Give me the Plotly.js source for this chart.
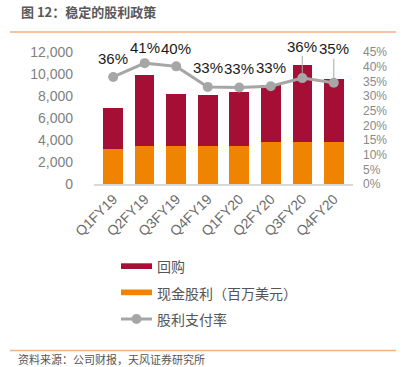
<!DOCTYPE html>
<html>
<head>
<meta charset="utf-8">
<script src="https://cdn.plot.ly/plotly-3.0.1.min.js"></script>
<style>
html,body{margin:0;padding:0;background:#fff;}
#chart{width:408px;height:367px;}
</style>
</head>
<body>
<div id="chart"></div>
<script>
// ---- data ----
const quarters = ["Q1FY19","Q2FY19","Q3FY19","Q4FY19","Q1FY20","Q2FY20","Q3FY20","Q4FY20"];
const buyback  = [3730, 6380, 4690, 4560, 4890, 5190, 7020, 5740];   // 回购 (百万美元)
const dividend = [3170, 3500, 3500, 3500, 3480, 3840, 3840, 3840];   // 现金股利 (百万美元)
const payout   = [36.5, 41.2, 40.1, 33.1, 32.9, 33.3, 36.1, 34.5];   // 股利支付率 %
const payoutLabels = ["36%","41%","40%","33%","33%","33%","36%","35%"];
const leftTicks = [0, 2000, 4000, 6000, 8000, 10000, 12000];
const rightTicks = [0, 5, 10, 15, 20, 25, 30, 35, 40, 45];
const rightTickText = ["0%","5%","10%","15%","20%","25%","30%","35%","40%","45%"];

// ---- layout helpers ----
const W = 408, H = 367, L = 94, R = 55, T = 52, B = 183;
const plotW = W - L - R, plotH = H - T - B;
const px = x => (x - L) / plotW;
const py = y => (H - B - y) / plotH;

const RED = "#A50F36", ORANGE = "#F08300", GRAY = "#A6A6A6";
const latin = "Liberation Sans, Arial, sans-serif";
const cjk = "Noto Sans CJK SC, sans-serif";

const traces = [
  { type: "bar", x: quarters, y: dividend, name: "现金股利（百万美元）",
    marker: { color: ORANGE }, showlegend: false, hoverinfo: "skip" },
  { type: "bar", x: quarters, y: buyback, name: "回购",
    marker: { color: RED }, showlegend: false, hoverinfo: "skip" },
  { type: "scatter", mode: "lines+markers", x: quarters, y: payout, yaxis: "y2",
    name: "股利支付率", line: { color: GRAY, width: 3 },
    marker: { color: GRAY, size: 10 }, showlegend: false, hoverinfo: "skip", cliponaxis: false }
];

// data label offsets (pixels above point); last two with leader lines
const labelOffsets = [-18, -16, -18, -19, -19, -19, -32, -34];
const annotations = quarters.map((q, i) => {
  const leader = i >= 6;
  return leader ? {
    x: q, y: payout[i], xref: "x", yref: "y2", text: payoutLabels[i],
    showarrow: true, arrowhead: 0, arrowwidth: 1, arrowcolor: GRAY,
    ax: 0, ay: labelOffsets[i], standoff: 0,
    font: { family: latin, size: 15, color: "#1a1a1a" }
  } : {
    x: q, y: payout[i], xref: "x", yref: "y2", text: payoutLabels[i],
    showarrow: false, yshift: -labelOffsets[i],
    font: { family: latin, size: 15, color: "#1a1a1a" }
  };
});

// title, source
annotations.push({
  xref: "paper", yref: "paper", x: px(19), y: py(11), xanchor: "left", yanchor: "middle",
  text: "<b>图 12：稳定的股利政策</b>", showarrow: false,
  font: { family: cjk, size: 13, color: "#595959" }
});
annotations.push({
  xref: "paper", yref: "paper", x: px(16), y: py(358.5), xanchor: "left", yanchor: "middle",
  text: "资料来源：公司财报，天风证券研究所", showarrow: false,
  font: { family: cjk, size: 11, color: "#555555" }
});
// legend texts
const legendItems = ["回购", "现金股利（百万美元）", "股利支付率"];
const legendY = [266, 292.5, 319];
legendItems.forEach((t, i) => annotations.push({
  xref: "paper", yref: "paper", x: px(155), y: py(legendY[i]), xanchor: "left", yanchor: "middle",
  text: t, showarrow: false, font: { family: cjk, size: 14, color: "#555555" }
}));

const shapes = [
  { type: "line", xref: "paper", yref: "paper", x0: px(10), x1: px(396), y0: py(32), y1: py(32),
    line: { color: "#F4B183", width: 1.5 } },
  { type: "line", xref: "paper", yref: "paper", x0: px(10), x1: px(396), y0: py(350.5), y1: py(350.5),
    line: { color: "#F4B183", width: 1.5 } },
  // legend swatches
  { type: "rect", xref: "paper", yref: "paper", x0: px(121), x1: px(152), y0: py(263.3), y1: py(269),
    fillcolor: RED, line: { width: 0 } },
  { type: "rect", xref: "paper", yref: "paper", x0: px(121), x1: px(152), y0: py(289.5), y1: py(295.2),
    fillcolor: ORANGE, line: { width: 0 } },
  { type: "line", xref: "paper", yref: "paper", x0: px(121), x1: px(152), y0: py(319), y1: py(319),
    line: { color: GRAY, width: 3 } },
  { type: "circle", xref: "paper", yref: "paper", x0: px(131.5), x1: px(141.5), y0: py(314), y1: py(324),
    fillcolor: GRAY, line: { width: 0 } }
];

const layout = {
  width: W, height: H,
  margin: { l: L, r: R, t: T, b: B, pad: 0 },
  paper_bgcolor: "#fff", plot_bgcolor: "#fff",
  barmode: "stack", bargap: 0.38,
  showlegend: false,
  xaxis: {
    type: "category", tickangle: -45, showgrid: false, zeroline: false,
    showline: true, linecolor: "#D9D9D9", linewidth: 1.5, ticks: "",
    tickfont: { family: latin, size: 14, color: "#6b6b6b" }
  },
  yaxis: {
    range: [0, 12000], tickvals: leftTicks, tickformat: ",d", showgrid: false, zeroline: false,
    showline: false, ticks: "", ticklabelstandoff: 20,
    tickfont: { family: latin, size: 14, color: "#7f7f7f" }
  },
  yaxis2: {
    overlaying: "y", side: "right", range: [0, 45], tickmode: "array",
    tickvals: rightTicks, ticktext: rightTickText,
    showgrid: false, zeroline: false, showline: false, ticks: "", ticklabelstandoff: 9,
    tickfont: { family: latin, size: 12, color: "#8a8a8a" }
  },
  annotations: annotations,
  shapes: shapes
};

Plotly.newPlot("chart", traces, layout, { staticPlot: true, displayModeBar: false });
</script>
</body>
</html>
